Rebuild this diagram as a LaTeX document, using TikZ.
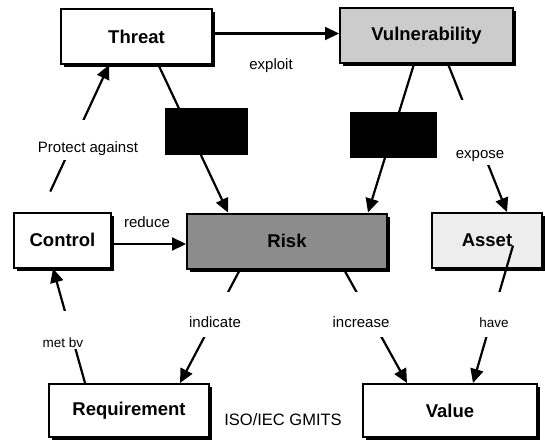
\documentclass[tikz,border=0pt]{standalone}
\usepackage{fontspec}
\setmainfont{Liberation Sans}
\usetikzlibrary{arrows.meta, shadows}
\newcommand{\bxfont}{\fontsize{18.5}{20}\selectfont\bfseries}
\newcommand{\lblfont}{\fontsize{15}{17}\selectfont}
\newcommand{\smlfont}{\fontsize{13.5}{15}\selectfont}
\newcommand{\isofont}{\fontsize{16.5}{18}\selectfont}
\tikzstyle{box} = [rectangle, draw, line width=2pt, fill=white, font=\bxfont, minimum height=55pt, drop shadow={shadow xshift=3pt, shadow yshift=-3pt, fill=black, opacity=1}]
\tikzstyle{hidden} = [rectangle, fill=black, inner sep=0pt]
\tikzstyle{lbl} = [fill=white, inner xsep=2pt, inner ysep=0pt, font=\lblfont]
\tikzstyle{arrow} = [line width=2.2pt, ->, >={Triangle[length=14pt,width=13pt]}]

\begin{document}
\begin{tikzpicture}[x=1pt, y=-1pt]
\useasboundingbox (0,0) rectangle (545,439);

\node (threat)  [box, minimum width=151pt]                       at (136.5,36.5) {Threat};
\node (vuln)    [box, fill=black!20, minimum width=173pt]        at (426.5,35.5) {Vulnerability};
\node (control) [box, minimum width=97pt]                        at (62.5,240)   {Control};
\node (risk)    [box, fill=black!45, minimum width=200pt]        at (287,241)    {Risk};
\node (asset)   [box, fill=black!7, minimum width=110pt]         at (487,240.5)  {Asset};
\node (req)     [box, minimum width=160pt, minimum height=53pt]  at (129,410.5)  {Requirement};
\node (value)   [box, minimum width=174pt, minimum height=53pt]  at (450,410.5)  {Value};

\draw [arrow] ([yshift=3pt]threat.east) -- ([yshift=3pt]threat.east -| vuln.west);
\draw [arrow] ([xshift=22pt]threat.south) -- ([xshift=-59pt]risk.north);
\draw [arrow] ([xshift=-12.5pt]vuln.south) -- ([xshift=81pt]risk.north);
\draw [arrow] ([xshift=21.5pt]vuln.south) -- ([xshift=20pt]asset.north);
\draw [arrow, shorten <=22pt] ([xshift=-21.5pt]control.north) -- ([xshift=-27.5pt]threat.south);
\draw [arrow] ([yshift=-4pt]control.east) -- ([yshift=-4pt]control.east -| risk.west);
\draw [arrow] ([xshift=-47pt]risk.south) -- ([xshift=51pt]req.north);
\draw [arrow] ([xshift=57pt]risk.south) -- ([xshift=-43pt]value.north);
\draw [arrow] ([xshift=26pt,yshift=-5pt]asset.center) -- ([xshift=23pt]value.north);
\draw [arrow] ([xshift=-44pt]req.north) -- ([xshift=-9.5pt]control.south);

\node (hid1) [hidden, minimum width=83pt, minimum height=47pt] at (206.5,131.5) {};
\node (hid2) [hidden, minimum width=87pt, minimum height=46pt] at (393.5,135)   {};

\node (exploit)  [font=\lblfont]                                      at (271,66)  {exploit};
\node (protect)  [lbl, anchor=base, text height=32pt, text depth=8pt]  at (88,152)  {Protect against};
\node (reduce)   [font=\lblfont]                                      at (147,222) {reduce};
\node (expose)   [lbl, anchor=base, text height=58pt, text depth=7pt]  at (480,158) {expose};
\node (indicate) [lbl, anchor=base, text height=35pt, text depth=10pt] at (215,327) {indicate};
\node (increase) [lbl, anchor=base, text height=35pt, text depth=10pt] at (361,327) {increase};
\node (have)     [lbl, font=\smlfont, anchor=base, text height=35pt, text depth=10pt] at (494,327) {have};
\node (metby)    [lbl, font=\smlfont, anchor=base, text height=36pt, text depth=2pt]  at (63,347)  {met bv};
\node (iso)      [font=\isofont]                                      at (283,420) {ISO/IEC GMITS};

\end{tikzpicture}
\end{document}
